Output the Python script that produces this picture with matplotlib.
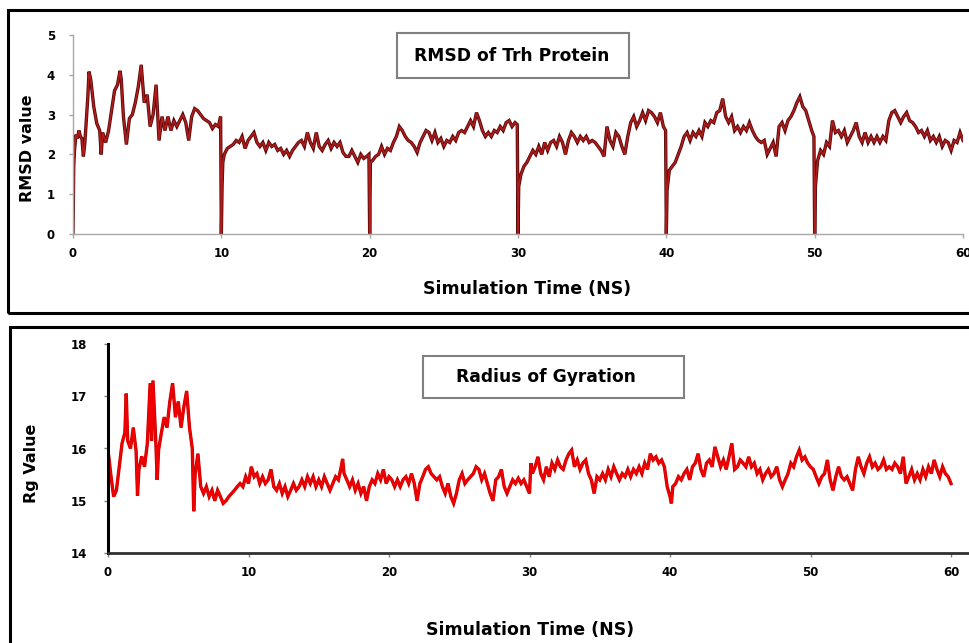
import matplotlib
matplotlib.use("Agg")
import matplotlib.pyplot as plt
import matplotlib.patheffects as pe
from matplotlib.patches import Rectangle

# ---------------- data ----------------
rmsd_time = [
    0, 0.05, 0.1, 0.2, 0.3, 0.4, 0.5, 0.6, 0.7, 0.8, 1.0, 1.08, 1.2, 1.4, 1.6, 1.8, 1.9, 2.0,
    2.2, 2.4, 2.6, 2.8, 3.0, 3.17, 3.25, 3.4, 3.6, 3.8, 4.0, 4.2, 4.4, 4.6, 4.8, 5.0, 5.2,
    5.4, 5.6, 5.8, 6.0, 6.2, 6.4, 6.6, 6.8, 7.0, 7.2, 7.4, 7.6, 7.8, 8.0, 8.2, 8.4, 8.6,
    8.8, 9.0, 9.2, 9.4, 9.6, 9.8, 9.95, 10.0,
    10.05, 10.1, 10.2, 10.4, 10.6, 10.8, 11.0, 11.2, 11.4, 11.6, 11.8, 12.0, 12.2, 12.4,
    12.6, 12.8, 13.0, 13.2, 13.4, 13.6, 13.8, 14.0, 14.2, 14.4, 14.6, 14.8, 15.0, 15.2,
    15.4, 15.6, 15.8, 16.0, 16.2, 16.4, 16.6, 16.8, 17.0, 17.2, 17.4, 17.6, 17.8, 18.0,
    18.2, 18.4, 18.6, 18.8, 19.0, 19.2, 19.4, 19.6, 19.8, 19.95, 20.0,
    20.05, 20.2, 20.4, 20.6, 20.8, 21.0, 21.2, 21.4, 21.6, 21.8, 22.0, 22.2, 22.4, 22.6,
    22.8, 23.0, 23.2, 23.4, 23.6, 23.8, 24.0, 24.2, 24.4, 24.6, 24.8, 25.0, 25.2, 25.4,
    25.6, 25.8, 26.0, 26.2, 26.4, 26.6, 26.8, 27.0, 27.2, 27.4, 27.6, 27.8, 28.0, 28.2,
    28.4, 28.6, 28.8, 29.0, 29.2, 29.4, 29.6, 29.8, 29.95, 30.0,
    30.05, 30.2, 30.4, 30.6, 30.8, 31.0, 31.2, 31.4, 31.6, 31.8, 32.0, 32.2, 32.4, 32.6,
    32.8, 33.0, 33.2, 33.4, 33.6, 33.8, 34.0, 34.2, 34.4, 34.6, 34.8, 35.0, 35.2, 35.4,
    35.6, 35.8, 36.0, 36.2, 36.4, 36.6, 36.8, 37.0, 37.2, 37.4, 37.6, 37.8, 38.0, 38.2,
    38.4, 38.6, 38.8, 39.0, 39.2, 39.4, 39.6, 39.8, 39.95, 40.0,
    40.05, 40.2, 40.4, 40.6, 40.8, 41.0, 41.2, 41.4, 41.6, 41.8, 42.0, 42.2, 42.4, 42.6,
    42.8, 43.0, 43.2, 43.4, 43.6, 43.8, 44.0, 44.2, 44.4, 44.6, 44.8, 45.0, 45.2, 45.4,
    45.6, 45.8, 46.0, 46.2, 46.4, 46.6, 46.8, 47.0, 47.2, 47.4, 47.6, 47.8, 48.0, 48.2,
    48.4, 48.6, 48.8, 49.0, 49.2, 49.4, 49.6, 49.8, 49.95, 50.0,
    50.05, 50.2, 50.4, 50.6, 50.8, 51.0, 51.2, 51.4, 51.6, 51.8, 52.0, 52.2, 52.4, 52.6,
    52.8, 53.0, 53.2, 53.4, 53.6, 53.8, 54.0, 54.2, 54.4, 54.6, 54.8, 55.0, 55.2, 55.4,
    55.6, 55.8, 56.0, 56.2, 56.4, 56.6, 56.8, 57.0, 57.2, 57.4, 57.6, 57.8, 58.0, 58.2,
    58.4, 58.6, 58.8, 59.0, 59.2, 59.4, 59.6, 59.8, 60.0,
]
rmsd_value = [
    0, 1.7, 2.1, 2.5, 2.4, 2.6, 2.45, 2.4, 1.95, 2.3, 3.45, 4.08, 3.87, 3.2, 2.78, 2.6, 2.0, 2.55,
    2.3, 2.6, 3.1, 3.6, 3.75, 4.1, 3.9, 2.95, 2.25, 2.9, 3.0, 3.3, 3.7, 4.25, 3.3, 3.5, 2.7,
    3.0, 3.75, 2.35, 2.95, 2.6, 2.95, 2.6, 2.85, 2.7, 2.85, 3.0, 2.8, 2.35, 2.95, 3.15, 3.1, 3.0,
    2.9, 2.85, 2.8, 2.65, 2.75, 2.7, 2.95, 0,
    1.2, 1.8, 2.0, 2.15, 2.2, 2.25, 2.35, 2.3, 2.45, 2.15, 2.35, 2.45, 2.55, 2.3,
    2.2, 2.3, 2.1, 2.3, 2.2, 2.25, 2.1, 2.15, 2.0, 2.1, 1.95, 2.1, 2.2, 2.3,
    2.35, 2.2, 2.55, 2.3, 2.15, 2.55, 2.2, 2.1, 2.25, 2.35, 2.15, 2.3, 2.2, 2.3,
    2.05, 1.95, 1.95, 2.1, 1.95, 1.8, 2.0, 1.9, 1.95, 2.0, 0,
    1.8, 1.85, 1.95, 2.0, 2.2, 2.0, 2.15, 2.1, 2.3, 2.45, 2.7, 2.6, 2.45, 2.35,
    2.3, 2.2, 2.05, 2.3, 2.45, 2.6, 2.55, 2.35, 2.55, 2.3, 2.4, 2.2, 2.35, 2.3,
    2.45, 2.35, 2.55, 2.6, 2.55, 2.7, 2.85, 2.7, 3.05, 2.85, 2.6, 2.45, 2.55, 2.45,
    2.6, 2.55, 2.7, 2.6, 2.8, 2.85, 2.7, 2.8, 2.75, 0,
    1.2, 1.5, 1.7, 1.8, 1.95, 2.1, 2.0, 2.2, 2.0, 2.3, 2.1, 2.3, 2.35, 2.2,
    2.45, 2.3, 2.0, 2.35, 2.55, 2.45, 2.3, 2.45, 2.35, 2.45, 2.3, 2.35, 2.3, 2.2,
    2.1, 1.95, 2.7, 2.35, 2.2, 2.55, 2.45, 2.2, 2.0, 2.45, 2.8, 2.95, 2.7, 2.85,
    3.05, 2.85, 3.1, 3.05, 2.95, 2.8, 3.05, 2.7, 2.6, 0,
    1.1, 1.6, 1.7, 1.8, 2.0, 2.2, 2.45, 2.55, 2.35, 2.55, 2.45, 2.6, 2.45, 2.8,
    2.7, 2.85, 2.8, 3.05, 3.1, 3.4, 2.95, 2.8, 2.95, 2.6, 2.7, 2.55, 2.7, 2.6,
    2.8, 2.6, 2.45, 2.35, 2.3, 2.35, 2.0, 2.15, 2.3, 1.95, 2.7, 2.8, 2.6, 2.85,
    2.95, 3.1, 3.3, 3.45, 3.2, 3.1, 2.85, 2.6, 2.45, 0,
    1.2, 1.85, 2.1, 2.0, 2.3, 2.2, 2.85, 2.55, 2.6, 2.45, 2.6, 2.3, 2.45, 2.6,
    2.8, 2.45, 2.3, 2.55, 2.3, 2.45, 2.3, 2.45, 2.3, 2.45, 2.35, 2.85, 3.05, 3.1,
    2.95, 2.8, 2.95, 3.05, 2.85, 2.8, 2.7, 2.55, 2.6, 2.45, 2.6, 2.35, 2.45, 2.3,
    2.45, 2.2, 2.35, 2.3, 2.1, 2.35, 2.3, 2.55, 2.35,
]

rg_time = [
    0, 0.2, 0.4, 0.6, 0.8, 1.0, 1.2, 1.3, 1.4, 1.6, 1.8, 2.0, 2.1, 2.2, 2.4, 2.6, 2.8, 3.0,
    3.1, 3.2, 3.4, 3.5, 3.6, 3.8, 4.0, 4.2, 4.4, 4.6, 4.8, 5.0, 5.2, 5.4, 5.6, 5.8, 6.0,
    6.1, 6.2, 6.4, 6.6, 6.8, 7.0, 7.2, 7.4, 7.6, 7.8, 8.0, 8.2, 8.4, 8.6, 8.8, 9.0, 9.2,
    9.4, 9.6, 9.8, 10.0, 10.2, 10.4, 10.6, 10.8, 11.0, 11.2, 11.4, 11.6, 11.8, 12.0, 12.2,
    12.4, 12.6, 12.8, 13.0, 13.2, 13.4, 13.6, 13.8, 14.0, 14.2, 14.4, 14.6, 14.8, 15.0,
    15.2, 15.4, 15.6, 15.8, 16.0, 16.2, 16.4, 16.6, 16.7, 16.8, 17.0, 17.2, 17.4, 17.6,
    17.8, 18.0, 18.2, 18.4, 18.6, 18.8, 19.0, 19.2, 19.4, 19.6, 19.8, 20.0,
    20.2, 20.4, 20.6, 20.8, 21.0, 21.2, 21.4, 21.6, 21.8, 22.0, 22.2, 22.4, 22.6, 22.8,
    23.0, 23.2, 23.4, 23.6, 23.8, 24.0, 24.2, 24.4, 24.6, 24.8, 25.0, 25.2, 25.4, 25.6,
    25.8, 26.0, 26.2, 26.4, 26.6, 26.8, 27.0, 27.2, 27.4, 27.6, 27.8, 28.0, 28.2, 28.4,
    28.6, 28.8, 29.0, 29.2, 29.4, 29.6, 29.8, 30.0, 30.1, 30.2, 30.4, 30.6, 30.8, 31.0,
    31.2, 31.4, 31.6, 31.8, 32.0, 32.2, 32.4, 32.6, 32.8, 33.0, 33.2, 33.4, 33.6, 33.8,
    34.0, 34.2, 34.4, 34.6, 34.8, 35.0, 35.2, 35.4, 35.6, 35.8, 36.0, 36.2, 36.4, 36.6,
    36.8, 37.0, 37.2, 37.4, 37.6, 37.8, 38.0, 38.2, 38.4, 38.6, 38.8, 39.0, 39.2, 39.4,
    39.6, 39.8, 40.0, 40.1, 40.2, 40.4, 40.6, 40.8, 41.0, 41.2, 41.4, 41.6, 41.8, 42.0,
    42.2, 42.4, 42.6, 42.8, 43.0, 43.2, 43.4, 43.6, 43.8, 44.0, 44.2, 44.4, 44.6, 44.8,
    45.0, 45.2, 45.4, 45.6, 45.8, 46.0, 46.2, 46.4, 46.6, 46.8, 47.0, 47.2, 47.4, 47.6,
    47.8, 48.0, 48.2, 48.4, 48.6, 48.8, 49.0, 49.2, 49.4, 49.6, 49.8, 50.0, 50.2, 50.4,
    50.6, 50.8, 51.0, 51.2, 51.4, 51.6, 51.8, 52.0, 52.2, 52.4, 52.6, 52.8, 53.0, 53.2,
    53.4, 53.6, 53.8, 54.0, 54.2, 54.4, 54.6, 54.8, 55.0, 55.2, 55.4, 55.6, 55.8, 56.0,
    56.2, 56.4, 56.6, 56.8, 57.0, 57.2, 57.4, 57.6, 57.8, 58.0, 58.2, 58.4, 58.6, 58.8,
    59.0, 59.2, 59.4, 59.6, 59.8, 60.0,
]
rg_value = [
    15.97, 15.5, 15.08, 15.2, 15.65, 16.1, 16.3, 17.05, 16.15, 16.0, 16.4, 15.95, 15.1, 15.6, 15.85, 15.65, 16.1, 17.25,
    16.15, 17.3, 16.15, 15.4, 15.97, 16.3, 16.6, 16.4, 16.9, 17.25, 16.6, 16.9, 16.4, 16.8, 17.1, 16.4, 16.0,
    14.8, 15.5, 15.9, 15.27, 15.14, 15.27, 15.08, 15.2, 15.0, 15.2, 15.08, 14.95, 15.0, 15.08, 15.14, 15.2, 15.27,
    15.33, 15.27, 15.46, 15.33, 15.65, 15.46, 15.52, 15.33, 15.46, 15.33, 15.4, 15.6, 15.27, 15.2, 15.33,
    15.14, 15.27, 15.08, 15.2, 15.33, 15.2, 15.27, 15.4, 15.27, 15.46, 15.33, 15.46, 15.27, 15.4,
    15.27, 15.46, 15.33, 15.2, 15.33, 15.46, 15.4, 15.65, 15.8, 15.52, 15.4, 15.27, 15.4, 15.2,
    15.33, 15.14, 15.27, 15.0, 15.27, 15.4, 15.33, 15.52, 15.4, 15.6, 15.33, 15.46,
    15.4, 15.27, 15.4, 15.27, 15.4, 15.46, 15.33, 15.52, 15.33, 15.0, 15.33, 15.46, 15.6, 15.65,
    15.52, 15.46, 15.4, 15.46, 15.27, 15.14, 15.33, 15.08, 14.95, 15.14, 15.4, 15.52, 15.33, 15.4,
    15.46, 15.52, 15.65, 15.6, 15.4, 15.52, 15.33, 15.14, 15.0, 15.4, 15.46, 15.6, 15.27, 15.14,
    15.27, 15.4, 15.33, 15.43, 15.33, 15.4, 15.27, 15.14, 15.72, 15.52, 15.65, 15.84, 15.52, 15.4,
    15.65, 15.46, 15.72, 15.6, 15.78, 15.65, 15.6, 15.78, 15.9, 15.97, 15.65, 15.78, 15.6, 15.72,
    15.78, 15.52, 15.4, 15.14, 15.46, 15.4, 15.52, 15.4, 15.6, 15.46, 15.65, 15.52, 15.4, 15.52,
    15.46, 15.6, 15.46, 15.6, 15.52, 15.65, 15.52, 15.72, 15.6, 15.9, 15.78, 15.84, 15.72, 15.78,
    15.65, 15.27, 15.08, 14.95, 15.27, 15.33, 15.46, 15.4, 15.52, 15.6, 15.4, 15.65, 15.72, 15.9,
    15.6, 15.46, 15.72, 15.78, 15.65, 16.03, 15.84, 15.65, 15.78, 15.6, 15.84, 16.1, 15.6, 15.65,
    15.78, 15.72, 15.65, 15.84, 15.65, 15.72, 15.52, 15.6, 15.4, 15.52, 15.6, 15.46, 15.52, 15.65,
    15.4, 15.27, 15.4, 15.52, 15.72, 15.65, 15.84, 15.97, 15.78, 15.84, 15.72, 15.65, 15.6, 15.46,
    15.33, 15.46, 15.52, 15.78, 15.4, 15.2, 15.46, 15.65, 15.46, 15.4, 15.46, 15.33, 15.2, 15.6,
    15.84, 15.65, 15.52, 15.72, 15.84, 15.65, 15.72, 15.6, 15.65, 15.78, 15.6, 15.65, 15.6, 15.72,
    15.65, 15.52, 15.84, 15.33, 15.46, 15.6, 15.4, 15.52, 15.4, 15.6, 15.46, 15.65, 15.52, 15.78,
    15.6, 15.46, 15.65, 15.52, 15.46, 15.33,
]

rmsd_yticks = [0, 1, 2, 3, 4, 5]
rg_yticks = [14, 15, 16, 17, 18]
x_ticks = [0, 10, 20, 30, 40, 50, 60]

# ---------------- figure ----------------
W, H = 969, 643
fig = plt.figure(figsize=(W / 100, H / 100), dpi=100)
fig.patch.set_facecolor("white")
FONT = "DejaVu Sans"


def fx(px):
    return px / W


def fy(py):
    return 1 - py / H


# outer frames
fig.patches.append(Rectangle((fx(8), fy(313)), fx(975) - fx(8), fy(10) - fy(313),
                             transform=fig.transFigure, fill=False, edgecolor="black", lw=2.2))
fig.patches.append(Rectangle((fx(10), fy(650)), fx(975) - fx(10), fy(327) - fy(650),
                             transform=fig.transFigure, fill=False, edgecolor="black", lw=2.2))

# ---------- top: RMSD ----------
ax1 = fig.add_axes([fx(73), fy(234), fx(963) - fx(73), fy(35) - fy(234)])
ax1.plot(rmsd_time, rmsd_value, color="#b01c1c", lw=1.2, solid_joinstyle="miter",
         path_effects=[pe.Stroke(linewidth=2.4, foreground="#560808"), pe.Normal()])
ax1.set_xlim(0, 60)
ax1.set_ylim(0, 5)
ax1.set_xticks(x_ticks)
ax1.set_yticks(rmsd_yticks)
for s in ["top", "right"]:
    ax1.spines[s].set_visible(False)
for s in ["left", "bottom"]:
    ax1.spines[s].set_color("#a8a8a8")
    ax1.spines[s].set_linewidth(1.0)
ax1.tick_params(axis="both", colors="#a8a8a8", length=3, width=1, labelcolor="black")
ax1.tick_params(axis="x", pad=6)
ax1.tick_params(axis="y", pad=10)
for lab in ax1.get_xticklabels() + ax1.get_yticklabels():
    lab.set_fontfamily(FONT)
    lab.set_fontweight("bold")
    lab.set_fontsize(8.5)

fig.text(fx(28), fy(148), "RMSD value", rotation=90, ha="center", va="center",
         fontsize=11.5, fontweight="bold", family=FONT)
fig.text(fx(527), fy(289), "Simulation Time (NS)", ha="center", va="center",
         fontsize=12.5, fontweight="bold", family=FONT)
fig.patches.append(Rectangle((fx(397), fy(78)), fx(629) - fx(397), fy(33) - fy(78),
                             transform=fig.transFigure, fill=True, facecolor="white",
                             edgecolor="#808080", lw=1.5))
fig.text(fx(512), fy(56), "RMSD of Trh Protein", ha="center", va="center",
         fontsize=12.3, fontweight="bold", family=FONT)

# ---------- bottom: Radius of gyration ----------
x_right = 61.3
ax2 = fig.add_axes([fx(108), fy(553), (fx(951) - fx(108)) * x_right / 60, fy(344) - fy(553)])
ax2.plot(rg_time, rg_value, color="#f00000", lw=1.6, solid_joinstyle="miter",
         path_effects=[pe.Stroke(linewidth=2.4, foreground="#c40000"), pe.Normal()])
ax2.set_xlim(0, x_right)
ax2.set_ylim(14, 18)
ax2.set_xticks(x_ticks)
ax2.set_yticks(rg_yticks)
for s in ["top", "right"]:
    ax2.spines[s].set_visible(False)
ax2.spines["left"].set_color("black")
ax2.spines["left"].set_linewidth(2.2)
ax2.spines["bottom"].set_color("#303030")
ax2.spines["bottom"].set_linewidth(2.0)
ax2.tick_params(axis="both", colors="#808080", length=3, width=1, labelcolor="black")
ax2.tick_params(axis="x", pad=6)
ax2.tick_params(axis="y", pad=12)
for lab in ax2.get_xticklabels() + ax2.get_yticklabels():
    lab.set_fontfamily(FONT)
    lab.set_fontweight("bold")
    lab.set_fontsize(8.5)

fig.text(fx(32), fy(463), "Rg Value", rotation=90, ha="center", va="center",
         fontsize=11.5, fontweight="bold", family=FONT)
fig.text(fx(530), fy(630), "Simulation Time (NS)", ha="center", va="center",
         fontsize=12.5, fontweight="bold", family=FONT)
fig.patches.append(Rectangle((fx(423), fy(398)), fx(684) - fx(423), fy(356) - fy(398),
                             transform=fig.transFigure, fill=True, facecolor="white",
                             edgecolor="#808080", lw=1.5))
fig.text(fx(546), fy(377), "Radius of Gyration", ha="center", va="center",
         fontsize=12.3, fontweight="bold", family=FONT)

fig.savefig("out.png", dpi=100)
